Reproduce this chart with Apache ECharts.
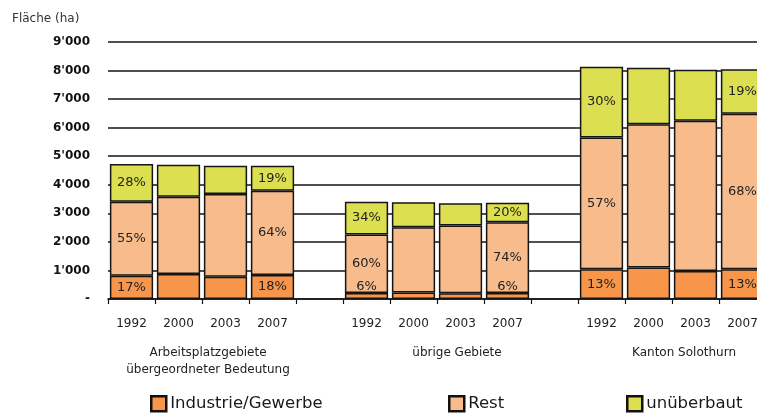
<!DOCTYPE html>
<html>
<head>
<meta charset="utf-8">
<script src="https://cdn.jsdelivr.net/npm/echarts@6/dist/echarts.min.js"></script>
<style>
    html, body { margin: 0; padding: 0; background: #fff; }
    #chart { width: 757px; height: 416px; }
</style>
</head>
<body>
<div id="chart"></div>
<script>
// Kategorien (leere Kategorie = Lücke zwischen den Gruppen)
const years = ['1992', '2000', '2003', '2007', '', '1992', '2000', '2003', '2007', '', '1992', '2000', '2003', '2007'];
const groupLabels = ['Arbeitsplatzgebiete\nübergeordneter Bedeutung', 'übrige Gebiete', 'Kanton Solothurn'];

// Fläche in ha
const industrie = [816, 875, 780, 840, '-', 210, 230, 200, 210, '-', 1040, 1100, 980, 1040];
const rest = [2590, 2707, 2895, 2950, '-', 2050, 2280, 2370, 2475, '-', 4620, 5020, 5260, 5450];
const unueberbaut = [1320, 1121, 990, 880, '-', 1150, 875, 780, 690, '-', 2470, 1980, 1790, 1560];

// Prozent-Beschriftungen
const industriePct = ['17%', '', '', '18%', '', '6%', '', '', '6%', '', '13%', '', '', '13%'];
const restPct = ['55%', '', '', '64%', '', '60%', '', '', '74%', '', '57%', '', '', '68%'];
const unueberbautPct = ['28%', '', '', '19%', '', '34%', '', '', '20%', '', '30%', '', '', '19%'];

const FONT = 'DejaVu Sans';
const chart = echarts.init(document.getElementById('chart'));

function makeSeries(name, values, pcts, color) {
    return {
        name: name,
        type: 'bar',
        stack: 'total',
        barCategoryGap: '8%',
        itemStyle: { color: color, borderColor: '#151515', borderWidth: 1.5 },
        label: {
            show: true,
            position: 'inside',
            fontFamily: FONT,
            fontSize: 13,
            color: '#222',
            formatter: p => pcts[p.dataIndex]
        },
        data: values.map(v => {
            // kleine Segmente: Beschriftung etwas nach oben
            if (v !== '-' && v < 400) return { value: v, label: { offset: [0, -9] } };
            return v;
        })
    };
}

const legendBase = {
    padding: 0,
    itemWidth: 15,
    itemHeight: 15,
    itemGap: 4,
    icon: 'rect',
    itemStyle: { borderColor: '#111', borderWidth: 2.5 },
    textStyle: { fontFamily: FONT, fontSize: 16.5, color: '#1a1a1a', padding: [0, 0, 0, -1] },
    top: 395
};

function groupText(i, x) {
    return {
        type: 'text', x: x, y: 344,
        style: { text: groupLabels[i], fontFamily: FONT, fontSize: 12, fill: '#222', lineHeight: 17, align: 'center', verticalAlign: 'top' }
    };
}

chart.setOption({
    animation: false,
    textStyle: { fontFamily: FONT },
    title: {
        text: 'Fläche (ha)',
        left: 7,
        top: 8,
        textStyle: { fontFamily: FONT, fontSize: 12, fontWeight: 'normal', color: '#333' }
    },
    legend: [
        Object.assign({}, legendBase, { left: 150, data: ['Industrie/Gewerbe'] }),
        Object.assign({}, legendBase, { left: 448, data: ['Rest'] }),
        Object.assign({}, legendBase, { left: 626, data: ['unüberbaut'] })
    ],
    grid: { left: 108, top: 42, width: 658, height: 257, containLabel: false, outerBoundsMode: 'none' },
    xAxis: {
        type: 'category',
        data: years,
        axisLine: { lineStyle: { color: '#151515', width: 1.5 } },
        axisTick: { show: true, length: 5, lineStyle: { color: '#151515', width: 1.2 } },
        axisLabel: { fontFamily: FONT, fontSize: 12, color: '#222', margin: 19, interval: 0 }
    },
    yAxis: {
        type: 'value',
        min: 0,
        max: 9000,
        interval: 1000,
        axisLine: { show: false },
        axisTick: { show: false },
        axisLabel: {
            fontFamily: FONT,
            fontSize: 12,
            fontWeight: 'bold',
            color: '#111',
            margin: 18,
            formatter: v => v === 0 ? '-' : (v / 1000) + "'000"
        },
        splitLine: { lineStyle: { color: '#151515', width: 1.5 } }
    },
    graphic: [groupText(0, 208), groupText(1, 457), groupText(2, 684)],
    series: [
        makeSeries('Industrie/Gewerbe', industrie, industriePct, '#F7964A'),
        makeSeries('Rest', rest, restPct, '#F8BC8C'),
        makeSeries('unüberbaut', unueberbaut, unueberbautPct, '#DCE050')
    ]
});
</script>
</body>
</html>
